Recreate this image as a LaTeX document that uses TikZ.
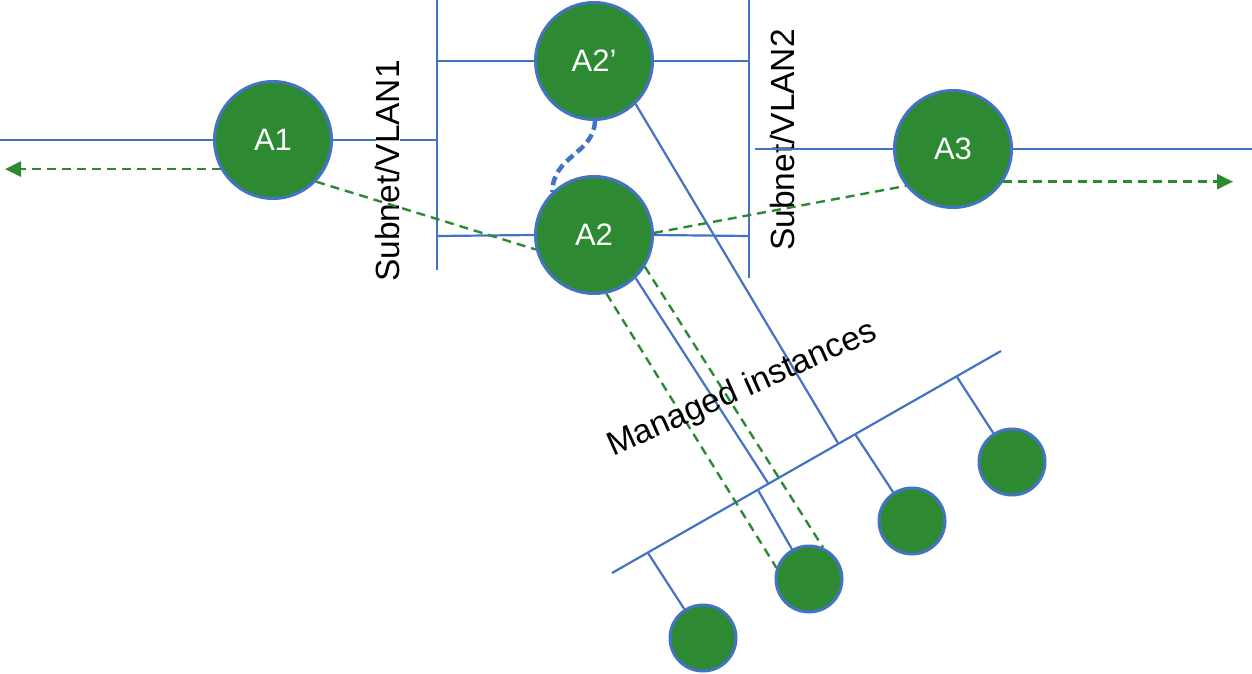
\documentclass[tikz,border=0pt]{standalone}
\usepackage{fontspec}
\setmainfont{Liberation Sans}
\usetikzlibrary{arrows.meta}
\definecolor{lblue}{HTML}{4472C4}
\definecolor{ngreen}{HTML}{2D8A33}
\tikzset{
  bigbox/.style={circle, draw=lblue, line width=3pt, fill=ngreen, inner sep=0pt,
    minimum size=117pt, text=white, font=\fontsize{31}{37}\selectfont},
  instbox/.style={circle, draw=lblue, line width=3pt, fill=ngreen, inner sep=0pt,
    minimum size=66pt},
  wire/.style={draw=lblue, line width=2.2pt},
  gdash/.style={draw=ngreen, line width=2.4pt, dash pattern=on 9pt off 6pt},
  garrow/.style={gdash, -{Triangle[length=16pt,width=15pt]}},
  bdash/.style={draw=lblue, line width=4.5pt, dash pattern=on 9pt off 5pt},
  lab/.style={inner sep=0pt, font=\fontsize{33.5}{40}\selectfont, text=black}
}
\begin{document}
\begin{tikzpicture}[x=1pt, y=-1pt]
\fill[white] (0,0) rectangle (1252,674);
\useasboundingbox (0,0) rectangle (1252,674);

% coordinates
\coordinate (lend) at (0,140);
\coordinate (b1top) at (437,0);
\coordinate (b1bot) at (437,270);
\coordinate (b1a) at (437,61);
\coordinate (b1m) at (437,140);
\coordinate (b1b) at (437,236);
\coordinate (b2top) at (749,0);
\coordinate (b2bot) at (749,278);
\coordinate (b2a) at (749,61);
\coordinate (b2b) at (749,236);
\coordinate (r3a) at (755,149);
\coordinate (r3b) at (1252,149);
\coordinate (la) at (5,169);
\coordinate (ra) at (1233,183);
\coordinate (mbA) at (612,573);
\coordinate (mbB) at (1001,351);
\coordinate (m1) at (838,443);
\coordinate (m2) at (768,483);
\coordinate (t1) at (648,553);
\coordinate (t2) at (758,490);
\coordinate (t3) at (855,434);
\coordinate (t4) at (957,377);

% nodes
\node[bigbox] (A1) at (273,140) {A1};
\node[bigbox] (A2p) at (594,61) {A2’};
\node[bigbox] (A2) at (594,235) {A2};
\node[bigbox] (A3) at (953,149) {A3};
\node[instbox] (I1) at (703,638) {};
\node[instbox] (I2) at (809,579) {};
\node[instbox] (I3) at (912,521) {};
\node[instbox] (I4) at (1012,462) {};

% wires
\path[wire] (lend) -- (A1.west);
\path[wire] (A1.east) -- (b1m);
\node[lab, fill=white, rotate=90] (v1) at (388,171) {Subnet/VLAN1};
\node[lab, rotate=90] (v2) at (783,140) {Subnet/VLAN2};
\path[wire] (b1top) -- (b1bot);
\path[wire] (b2top) -- (b2bot);
\path[wire] (b1a) -- (A2p.west);
\path[wire] (A2p.east) -- (b2a);
\path[wire] (b1b) -- (A2.west);
\path[wire] (A2.east) -- (b2b);
\path[wire] (r3a) -- (A3.west);
\path[wire] (A3.east) -- (r3b);
\path[wire] (mbA) -- (mbB);
\path[wire] (A2p.-46) -- (m1);
\path[wire] (A2.-46) -- (m2);
\path[wire] (t1) -- (I1);
\path[wire] (t2) -- (I2);
\path[wire] (t3) -- (I3);
\path[wire] (t4) -- (I4);

% green dashed
\path[garrow] (A1.209) -- (A1.209 -| la);
\path[garrow] (A3.-33) -- (A3.-33 -| ra);
\path[gdash] (A1.-44) -- (A2.194);
\path[gdash] (A2.2) -- (A3.218);
\path[gdash] (A2.-78) -- (I2.161);
\path[gdash] (A2.-32) -- (I2.66);

% blue dashed curve
\path[bdash] (A2p.-89) .. controls (593,155) and (553,155) .. (A2.134);

\node[lab, rotate=24, anchor=base west] (mi) at (613,457) {Managed instances};
\end{tikzpicture}
\end{document}
